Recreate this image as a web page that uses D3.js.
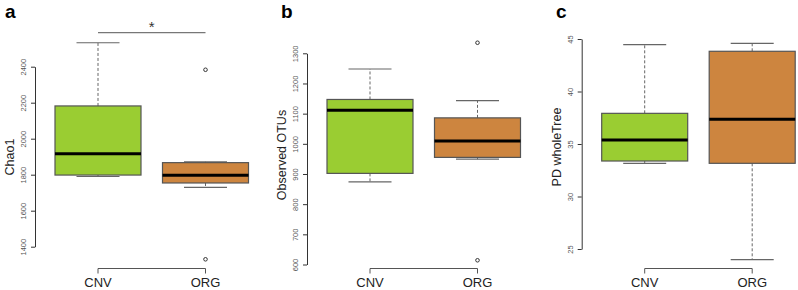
<!DOCTYPE html>
<html>
<head>
<meta charset="utf-8">
<script src="https://cdn.jsdelivr.net/npm/d3@7"></script>
<style>
  body { margin: 0; background: #fff; }
  svg { font-family: "Liberation Sans", Arial, sans-serif; }
</style>
</head>
<body>
<svg id="chart" width="798" height="290"></svg>
<script>
// groups on the x axis
const groups = ['CNV', 'ORG']

// box stats per group: [lower whisker, Q1, median, Q3, upper whisker]
const chaoStats = [[1790, 1798, 1917, 2182, 2533], [1730, 1754, 1797, 1867, 1872]]
const chaoOutliers = [[], [2383, 1330]]
const chaoTicks = [1400, 1600, 1800, 2000, 2200, 2400]

const otuStats = [[874, 902, 1111, 1147, 1248], [949, 955, 1009, 1086, 1143]]
const otuOutliers = [[], [1335, 614]]
const otuTicks = [600, 700, 800, 900, 1000, 1100, 1200, 1300]

const pdStats = [[33.16, 33.38, 35.38, 37.92, 44.46], [23.98, 33.16, 37.35, 43.83, 44.59]]
const pdOutliers = [[], []]
const pdTicks = [25, 30, 35, 40, 45]

const fills = ['#9ACD32', '#CD853F']

const svg = d3.select('#chart')

// one boxplot panel
function drawPanel(opts) {
	const y = d3.scaleLinear()
		.domain(opts.domain)
		.range(opts.yrange)
	const x = d3.scalePoint()
		.domain(groups)
		.range([opts.axisX + 63, opts.axisX + 170.5])
	const boxW = 86

	const g = svg.append('g')

	// panel letter
	g.append('text')
		.attr('x', opts.letterX)
		.attr('y', 18)
		.attr('font-size', 19)
		.attr('font-weight', 'bold')
		.text(opts.letter)

	// y axis
	const yAxis = g.append('g')
		.attr('transform', `translate(${opts.axisX},0)`)
		.call(d3.axisLeft(y).tickValues(opts.ticks).tickFormat(d3.format('d')).tickSize(4).tickSizeOuter(0))
	yAxis.select('.domain').attr('stroke', '#333')
	yAxis.selectAll('.tick line').attr('stroke', '#333')
	yAxis.selectAll('.tick text')
		.attr('x', 0).attr('dy', 0)
		.attr('transform', 'translate(-9,0) rotate(-90)')
		.attr('text-anchor', 'middle')
		.attr('font-size', 7.5)
		.attr('fill', '#555')

	// y title
	g.append('text')
		.attr('transform', `translate(${opts.axisX - 21},${opts.titleY}) rotate(-90)`)
		.attr('text-anchor', 'middle')
		.attr('font-size', 12.5)
		.attr('fill', '#222')
		.text(opts.title)

	// x axis (bracket style)
	const xy = 268.5
	g.append('line')
		.attr('x1', x(groups[0])).attr('x2', x(groups[1]))
		.attr('y1', xy).attr('y2', xy)
		.attr('stroke', '#555')
	groups.forEach(k => {
		g.append('line')
			.attr('x1', x(k)).attr('x2', x(k))
			.attr('y1', xy).attr('y2', xy + 5)
			.attr('stroke', '#555')
		g.append('text')
			.attr('x', x(k))
			.attr('y', 287)
			.attr('text-anchor', 'middle')
			.attr('font-size', 13)
			.attr('fill', '#222')
			.text(k)
	})

	// boxes
	groups.forEach((k, i) => {
		const s = opts.stats[i]
		const cx = x(k)
		// whiskers
		g.append('line')
			.attr('x1', cx).attr('x2', cx)
			.attr('y1', y(s[3])).attr('y2', y(s[4]))
			.attr('stroke', '#666').attr('stroke-dasharray', '3,2')
		g.append('line')
			.attr('x1', cx).attr('x2', cx)
			.attr('y1', y(s[1])).attr('y2', y(s[0]))
			.attr('stroke', '#666').attr('stroke-dasharray', '3,2')
		// caps
		;[s[0], s[4]].forEach(v => {
			g.append('line')
				.attr('x1', cx - boxW / 4).attr('x2', cx + boxW / 4)
				.attr('y1', y(v)).attr('y2', y(v))
				.attr('stroke', '#666').attr('stroke-width', 1.2)
		})
		// box
		g.append('rect')
			.attr('x', cx - boxW / 2)
			.attr('width', boxW)
			.attr('y', y(s[3]))
			.attr('height', y(s[1]) - y(s[3]))
			.attr('fill', fills[i])
			.attr('stroke', '#555')
			.attr('stroke-width', 1.2)
		// median
		g.append('line')
			.attr('x1', cx - boxW / 2).attr('x2', cx + boxW / 2)
			.attr('y1', y(s[2])).attr('y2', y(s[2]))
			.attr('stroke', '#000').attr('stroke-width', 3)
		// outliers
		opts.outliers[i].forEach(v => {
			g.append('circle')
				.attr('cx', cx).attr('cy', y(v))
				.attr('r', 1.8)
				.attr('fill', 'none')
				.attr('stroke', '#333')
				.attr('stroke-width', 1)
		})
	})

	if (opts.signif) {
		g.append('line')
			.attr('x1', x(groups[0])).attr('x2', x(groups[1]))
			.attr('y1', 32.7).attr('y2', 32.7)
			.attr('stroke', '#777').attr('stroke-width', 1.2)
		g.append('text')
			.attr('x', (x(groups[0]) + x(groups[1])) / 2)
			.attr('y', 32)
			.attr('text-anchor', 'middle')
			.attr('font-size', 15)
			.attr('fill', '#333')
			.text('*')
	}
}

drawPanel({ letter: 'a', letterX: 5, axisX: 35, domain: [1400, 2400], yrange: [246.7, 66.7],
	ticks: chaoTicks, stats: chaoStats, outliers: chaoOutliers, title: 'Chao1', titleY: 157, signif: true })
drawPanel({ letter: 'b', letterX: 281, axisX: 307, domain: [600, 1300], yrange: [264.5, 53.3],
	ticks: otuTicks, stats: otuStats, outliers: otuOutliers, title: 'Observed OTUs', titleY: 155 })
drawPanel({ letter: 'c', letterX: 556, axisX: 581.7, domain: [25, 45], yrange: [249, 39],
	ticks: pdTicks, stats: pdStats, outliers: pdOutliers, title: 'PD wholeTree', titleY: 147 })
</script>
</body>
</html>
